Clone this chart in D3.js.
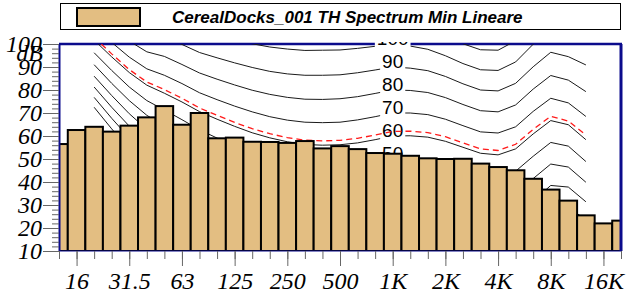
<!DOCTYPE html>
<html>
<head>
<meta charset="utf-8">
<script src="https://cdn.jsdelivr.net/npm/d3@7"></script>
<style>
body { margin: 0; background: #fff; }
svg { display: block; }
</style>
</head>
<body>
<div id="chart"></div>
<script>
// third-octave bands on the x axis
var bandFreqs = [12.5, 16, 20, 25, 31.5, 40, 50, 63, 80, 100, 125, 160, 200, 250, 315, 400, 500, 630, 800,
  1000, 1250, 1600, 2000, 2500, 3150, 4000, 5000, 6300, 8000, 10000, 12500, 16000, 20000];
// measured spectrum (dB), one per band
var spectrum = [56.5, 62.6, 64.0, 61.9, 64.5, 68.1, 73.0, 64.9, 70.0, 59.0, 59.3, 57.5, 57.4, 57.0, 57.8, 54.6, 55.6, 54.3, 52.6,
  52.3, 51.4, 50.3, 50.0, 50.1, 48.0, 46.5, 45.1, 41.4, 36.7, 31.9, 25.5, 22.0, 23.2];

var tickFreqs = [16, 31.5, 63, 125, 250, 500, 1000, 2000, 4000, 8000, 16000];
var tickNames = ["16", "31.5", "63", "125", "250", "500", "1K", "2K", "4K", "8K", "16K"];
var yTicks = [10, 20, 30, 40, 50, 60, 70, 80, 90, 100];

// equal loudness contours (dB), 20 Hz .. 12.5 kHz
var contourFreqs = [20, 25, 31.5, 40, 50, 63, 80, 100, 125, 160, 200, 250, 315, 400, 500, 630, 800,
  1000, 1250, 1600, 2000, 2500, 3150, 4000, 5000, 6300, 8000, 10000, 12500];
var phon0 = [72.5, 63.1, 54.3, 46.2, 39.3, 32.9, 27.0, 22.3, 17.8, 13.8, 10.8, 8.1, 5.7, 3.9, 2.5, 1.3, 0.5, 0, -0.7, -1.9, -3.5, -5.7, -8.1, -8.3, -5.4, 2.5, 11.6, 13.1, 8.6];
var phon10 = [76.8, 67.7, 59.2, 51.5, 45.1, 39.2, 33.7, 29.1, 24.8, 21.0, 18.1, 15.6, 13.4, 11.9, 10.9, 10.1, 9.9, 10, 9.7, 8.7, 7.2, 5.0, 2.6, 2.2, 4.8, 12.2, 20.4, 21.0, 15.8];
var phon20 = [81.3, 72.5, 64.3, 57.1, 51.2, 45.8, 40.5, 36.2, 32.1, 28.5, 25.7, 23.3, 21.4, 20.1, 19.4, 19.1, 19.4, 20, 19.9, 19.2, 17.7, 15.4, 13.0, 12.5, 15.0, 22.0, 29.4, 29.3, 23.4];
var phon30 = [86.0, 77.6, 69.7, 62.9, 57.6, 52.6, 47.7, 43.5, 39.7, 36.2, 33.5, 31.4, 29.6, 28.6, 28.2, 28.3, 29.0, 30, 30.1, 29.5, 28.0, 25.7, 23.2, 22.6, 25.0, 31.7, 38.5, 37.8, 31.4];
var phon40 = [91.0, 82.9, 75.4, 69.0, 64.3, 59.7, 55.0, 51.2, 47.5, 44.3, 41.7, 39.7, 38.2, 37.4, 37.3, 37.7, 38.7, 40, 40.2, 39.6, 38.1, 35.7, 33.1, 32.5, 34.9, 41.5, 47.8, 46.5, 39.9];
var phon50 = [96.2, 88.5, 81.3, 75.4, 71.3, 67.1, 62.7, 59.1, 55.7, 52.7, 50.3, 48.4, 47.1, 46.6, 46.6, 47.2, 48.5, 50, 50.2, 49.6, 48.0, 45.5, 42.9, 42.3, 44.7, 51.2, 57.2, 55.6, 48.9];
var phon60 = [101.7, 94.4, 87.6, 82.1, 78.6, 74.8, 70.6, 67.3, 64.2, 61.4, 59.2, 57.5, 56.3, 56.0, 56.2, 57.0, 58.4, 60, 60.1, 59.5, 57.7, 55.1, 52.5, 51.8, 54.4, 60.9, 66.7, 64.9, 58.4];
var phon70 = [107.6, 100.7, 94.3, 89.2, 86.4, 82.8, 78.8, 75.8, 73.0, 70.5, 68.4, 66.9, 66.0, 65.8, 66.0, 67.0, 68.4, 70, 70.0, 69.3, 67.3, 64.5, 61.8, 61.3, 64.0, 70.7, 76.4, 74.4, 68.5];
var phon80 = [113.7, 107.3, 101.3, 96.6, 94.6, 91.1, 87.4, 84.7, 82.2, 79.9, 78.1, 76.8, 76.0, 75.9, 76.2, 77.1, 78.5, 80, 79.8, 78.9, 76.7, 73.7, 71.0, 70.5, 73.5, 80.4, 86.3, 84.3, 79.3];
var phon90 = [120.3, 114.4, 108.7, 104.4, 103.2, 99.8, 96.3, 94.0, 91.8, 89.8, 88.1, 87.0, 86.4, 86.4, 86.6, 87.5, 88.7, 90, 89.5, 88.4, 85.9, 82.7, 80.0, 79.6, 82.9, 90.1, 96.4, 94.5, 90.9];
var phon100 = [127.2, 121.9, 116.6, 112.6, 112.3, 108.9, 105.6, 103.6, 101.8, 100.1, 98.7, 97.8, 97.2, 97.3, 97.4, 98.1, 99.0, 100, 99.1, 97.7, 94.9, 91.5, 88.8, 88.5, 92.2, 99.9, 106.6, 105.0, 103.2];
var phon110 = [134.6, 129.8, 125.0, 121.3, 121.9, 118.4, 115.3, 113.7, 112.3, 110.9, 109.7, 109.0, 108.6, 108.6, 108.6, 109.0, 109.5, 110, 108.6, 107.0, 103.8, 100.1, 97.5, 97.3, 101.4, 109.6, 117.0, 116.0, 116.5];
// red dashed contour
var spectrumContour = [102.9, 95.7, 88.9, 83.5, 80.2, 76.4, 72.2, 69.0, 65.9, 63.2, 61.0, 59.3, 58.2, 57.9, 58.1, 59.0, 60.4, 62, 62.1, 61.5, 59.7, 57.0, 54.4, 53.7, 56.4, 62.9, 68.6, 66.5, 60.4];
var contourLabels = ["50", "60", "70", "80", "90", "100"];

var legendText = "CerealDocks_001 TH Spectrum Min Lineare";

var width = 629;
var height = 305;
var plot = { left: 59, right: 621, top: 44, bottom: 251 };
var frameColor = "#0b0b8c";
var barColor = "#e3be82";
var serif = "'Liberation Serif', 'Times New Roman', serif";
var sans = "'Liberation Sans', Arial, sans-serif";

var svg = d3.select("#chart").append("svg")
  .attr("width", width)
  .attr("height", height);

var x = d3.scaleLinear()
  .domain([0, bandFreqs.length - 1])
  .range([plot.left, plot.right]);

var y = d3.scaleLinear()
  .domain([10, 100])
  .range([plot.bottom, plot.top]);

function xf(f) { return x(bandFreqs.indexOf(f)); }

var defs = svg.append("defs");
defs.append("clipPath").attr("id", "plotClip")
  .append("rect")
  .attr("x", plot.left).attr("y", plot.top)
  .attr("width", plot.right - plot.left).attr("height", plot.bottom - plot.top);
defs.append("clipPath").attr("id", "labelClip")
  .append("rect")
  .attr("x", plot.left).attr("y", plot.top - 2)
  .attr("width", plot.right - plot.left).attr("height", plot.bottom - plot.top + 2);

// legend
var legend = svg.append("g");
legend.append("rect")
  .attr("x", 60.5).attr("y", 3.5)
  .attr("width", 560).attr("height", 26)
  .attr("fill", "#fff").attr("stroke", "#000").attr("stroke-width", 1);
legend.append("rect")
  .attr("x", 77).attr("y", 8)
  .attr("width", 63).attr("height", 18)
  .attr("fill", barColor).attr("stroke", "#000").attr("stroke-width", 2);
legend.append("text")
  .attr("x", 172).attr("y", 22.5)
  .style("font-family", sans)
  .style("font-size", "17px")
  .style("font-weight", "bold")
  .style("font-style", "italic")
  .text(legendText);

// plot frame (top part sits under the contour labels)
svg.append("line")
  .attr("x1", plot.left).attr("x2", plot.right + 1)
  .attr("y1", plot.top).attr("y2", plot.top)
  .attr("stroke", frameColor).attr("stroke-width", 2.5);

// contours
var contours = [phon0, phon10, phon20, phon30, phon40, phon50, phon60, phon70, phon80, phon90, phon100, phon110];
var line = d3.line()
  .x(function (d, i) { return xf(contourFreqs[i]); })
  .y(function (d) { return y(d); });

var cg = svg.append("g").attr("clip-path", "url(#plotClip)");
cg.selectAll("path.contour")
  .data(contours)
  .join("path")
  .attr("class", "contour")
  .attr("d", line)
  .attr("fill", "none")
  .attr("stroke", "#1a1a1a")
  .attr("stroke-width", 1);

// contour labels at 1 kHz
var lg = svg.append("g").attr("clip-path", "url(#labelClip)");
contourLabels.forEach(function (lab) {
  var g = lg.append("g");
  var t = g.append("text")
    .attr("x", xf(1000))
    .attr("y", y(+lab) + 1)
    .attr("text-anchor", "middle")
    .style("font-family", sans)
    .style("font-size", "19px")
    .attr("fill", "#000")
    .text(lab);
  var w = t.node().getComputedTextLength();
  g.insert("rect", "text")
    .attr("x", xf(1000) - w / 2 - 2)
    .attr("y", y(+lab) - 15)
    .attr("width", w + 4)
    .attr("height", 19)
    .attr("fill", "#fff");
});

// red dashed contour
svg.append("g").attr("clip-path", "url(#plotClip)")
  .append("path")
  .attr("d", line(spectrumContour))
  .attr("fill", "none")
  .attr("stroke", "#ff1a1a")
  .attr("stroke-width", 1.3)
  .attr("stroke-dasharray", "6,4");

// bars
var bw = x(1) - x(0);
svg.append("g").attr("clip-path", "url(#plotClip)")
  .selectAll("rect")
  .data(spectrum)
  .join("rect")
  .attr("x", function (d, i) { return x(i) - bw / 2; })
  .attr("y", function (d) { return y(d); })
  .attr("width", bw)
  .attr("height", function (d) { return y(10) - y(d); })
  .attr("fill", barColor)
  .attr("stroke", "#000")
  .attr("stroke-width", 2);

// rest of the frame
svg.append("line")
  .attr("x1", plot.left + 0.5).attr("x2", plot.left + 0.5)
  .attr("y1", plot.top).attr("y2", plot.bottom)
  .attr("stroke", frameColor).attr("stroke-width", 2);
svg.append("line")
  .attr("x1", plot.right).attr("x2", plot.right)
  .attr("y1", plot.top).attr("y2", plot.bottom)
  .attr("stroke", frameColor).attr("stroke-width", 3);
svg.append("line")
  .attr("x1", plot.left).attr("x2", plot.right)
  .attr("y1", plot.bottom).attr("y2", plot.bottom)
  .attr("stroke", frameColor).attr("stroke-width", 1.2);

// x axis
var xMinor = svg.append("g")
  .attr("transform", "translate(0," + plot.bottom + ")")
  .call(d3.axisBottom(x).tickValues(bandFreqs.map(function (f, i) { return i; })).tickSize(8).tickFormat(""));
var xMajor = svg.append("g")
  .attr("transform", "translate(0," + plot.bottom + ")")
  .call(d3.axisBottom(x)
    .tickValues(tickFreqs.map(function (f) { return bandFreqs.indexOf(f); }))
    .tickSize(15)
    .tickFormat(function (d, i) { return tickNames[i]; }));

// y axis
var yMinor = svg.append("g")
  .attr("transform", "translate(" + plot.left + ",0)")
  .call(d3.axisLeft(y).ticks(45).tickSize(7).tickFormat(""));
var yMajor = svg.append("g")
  .attr("transform", "translate(" + plot.left + ",0)")
  .call(d3.axisLeft(y).tickValues(yTicks).tickSize(16).tickPadding(1));

[xMinor, xMajor, yMinor, yMajor].forEach(function (g) {
  g.attr("font-family", null).attr("font-size", null);
  g.select(".domain").remove();
  g.selectAll(".tick line").attr("stroke", "#666").attr("stroke-width", 1);
  g.selectAll(".tick text")
    .attr("fill", "#000")
    .style("font-family", serif)
    .style("font-style", "italic")
    .style("font-size", "24px");
});
xMajor.selectAll(".tick text").attr("dy", null).attr("y", 38);
yMajor.selectAll(".tick text").attr("dy", null).attr("y", 7);

svg.append("text")
  .attr("x", 43).attr("y", 61)
  .attr("text-anchor", "end")
  .style("font-family", serif)
  .style("font-style", "italic")
  .style("font-size", "24px")
  .text("dB");
</script>
</body>
</html>
